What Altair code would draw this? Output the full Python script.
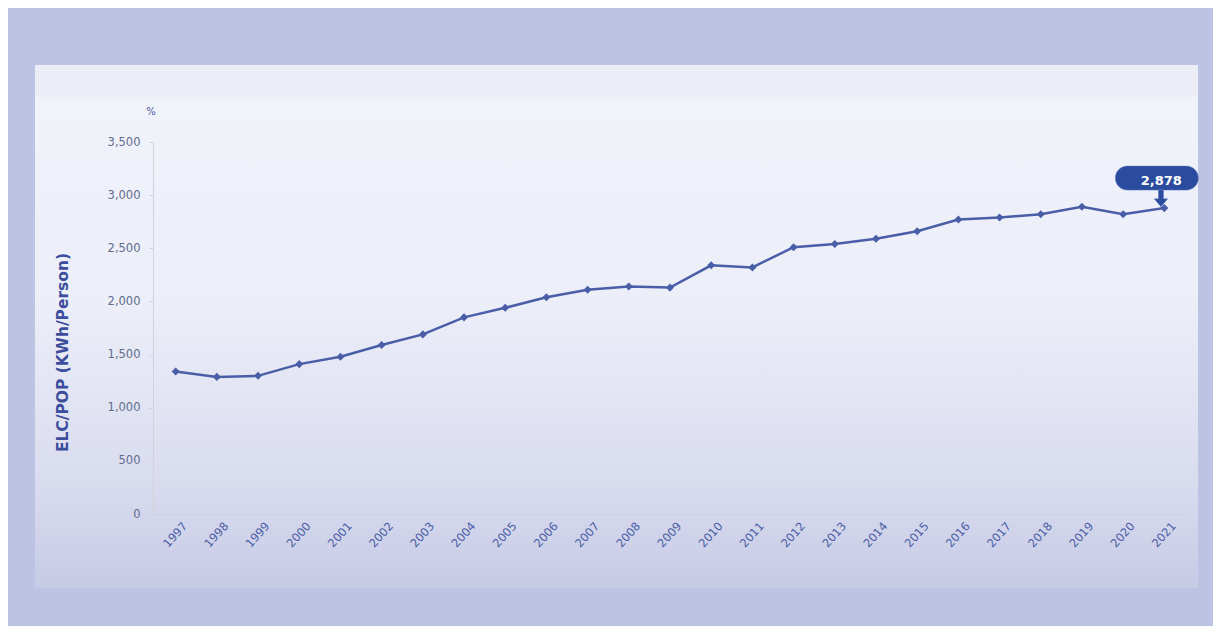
import altair as alt
import pandas as pd

years = [str(y) for y in range(1997, 2022)]
values = [1340, 1290, 1300, 1410, 1480, 1590, 1690, 1850, 1940, 2040, 2110, 2140,
          2130, 2340, 2320, 2510, 2540, 2590, 2660, 2770, 2790, 2820, 2890, 2820, 2878]
y_ticks = [0, 500, 1000, 1500, 2000, 2500, 3000, 3500]
y_title = "ELC/POP (KWh/Person)"
unit_label = "%"
last_year = "2021"

df = pd.DataFrame({"year": years, "value": values})

x_enc = alt.X("year:O", scale=alt.Scale(type="point", padding=0.55),
              axis=alt.Axis(title=None, labelAngle=-48, labelAlign="right", labelBaseline="top",
                            labelColor="#4b5ea6", labelFont="DejaVu Sans", labelFontSize=11.5,
                            labelOffset=5, labelPadding=6, ticks=False, zindex=1,
                            domainColor="#c9c9d8", domainDash=[2, 2], domainWidth=1))
y_enc = alt.Y("value:Q", scale=alt.Scale(domain=[0, 3500], nice=False),
              axis=alt.Axis(values=y_ticks, format=",.0f", grid=False, title=y_title, zindex=1,
                            titleFont="DejaVu Sans", titleFontSize=15.5, titleFontWeight="bold",
                            titleColor="#3b4d9c", titleAngle=-90, titleX=-91, titleY=210,
                            titleAlign="center", titleBaseline="middle",
                            labelColor="#5f6c8c", labelFont="DejaVu Sans", labelFontSize=11.5,
                            labelPadding=9, tickSize=4, tickColor="#d6d0da",
                            domainColor="#d6d0da", domainWidth=1))

base = alt.Chart(df)

panel = alt.Chart(pd.DataFrame({"a": [0]})).mark_rect(
    color=alt.Gradient(
        gradient="linear",
        stops=[
            alt.GradientStop(color="#ebedf6", offset=0),
            alt.GradientStop(color="#ecedf6", offset=0.06),
            alt.GradientStop(color="#f1f3fb", offset=0.062),
            alt.GradientStop(color="#eceef8", offset=0.45),
            alt.GradientStop(color="#d9dcef", offset=0.8),
            alt.GradientStop(color="#c6cae5", offset=1),
        ],
        x1=0, x2=0, y1=0, y2=1,
    )
).encode(x=alt.value(-118), x2=alt.value(1045), y=alt.value(-77), y2=alt.value(446))

unit = alt.Chart(pd.DataFrame({"t": [unit_label]})).mark_text(
    font="DejaVu Sans", fontSize=10, color="#4a5a9a", align="center", baseline="middle"
).encode(x=alt.value(-2), y=alt.value(-30), text="t:N")

line = base.mark_line(color="#4a5ea8", strokeWidth=2.5).encode(x=x_enc, y=y_enc)
pts = base.mark_point(shape="diamond", filled=True, size=65, color="#4a5ea8", opacity=1).encode(
    x="year:O", y="value:Q")

callout_path = ("M -0.881,-1.0 L 0.524,-1.0 A 0.2857,0.2857 0 0 1 0.524,-0.4286 "
                "L -0.881,-0.4286 A 0.2857,0.2857 0 0 1 -0.881,-1.0 Z "
                "M -0.14,-0.44 L -0.02,-0.44 L -0.02,-0.22 L 0.08,-0.22 L -0.08,-0.03 "
                "L -0.24,-0.22 L -0.14,-0.22 Z")
last = base.transform_filter(alt.datum.year == last_year)
callout = last.mark_point(shape=callout_path, filled=True, size=7056, color="#2b4b9e",
                          opacity=1, stroke="#5a78c0", strokeWidth=0.5).encode(
    x="year:O", y="value:Q")
callout_text = last.mark_text(font="DejaVu Sans", fontSize=13, fontWeight="bold", color="white",
                              dx=-3, dy=-27).encode(
    x="year:O", y="value:Q", text=alt.Text("value:Q", format=","))

chart = alt.layer(panel, unit, line, pts, callout, callout_text).properties(
    width=1034, height=372,
    autosize=alt.AutoSizeParams(type="none"),
    padding={"left": 145, "top": 134, "right": 26, "bottom": 112},
).configure(background="#bdc3e3").configure_view(stroke=None)

chart.save("out.html", embed_options={"renderer": "svg", "actions": False})
